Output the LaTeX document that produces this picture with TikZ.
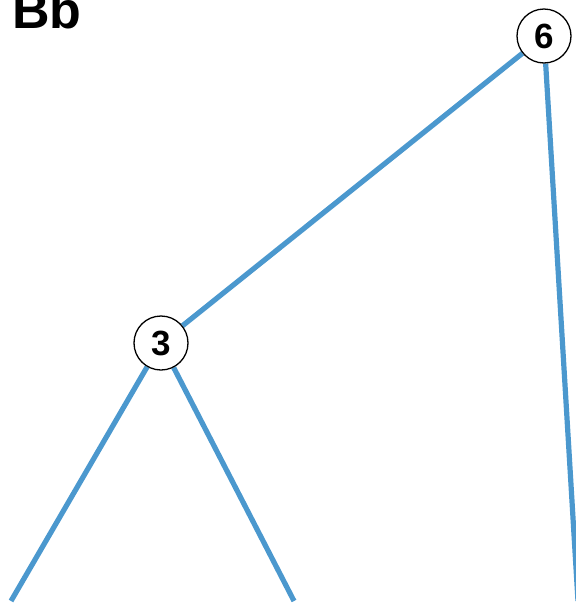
\documentclass[tikz,border=0pt]{standalone}
\usepackage{fontspec}
\setmainfont{Liberation Sans}
\usetikzlibrary{positioning, backgrounds}
\definecolor{BleuBranche}{RGB}{75,152,206}
\tikzset{noeud/.style={circle, draw=black, fill=white, line width=1.3pt,
  minimum size=54pt, inner sep=0pt, font=\fontsize{35}{38}\selectfont\bfseries}}
\tikzset{branche/.style={draw=BleuBranche, line width=5.2pt}}
\tikzset{titre/.style={anchor=base west, inner sep=0pt,
  font=\fontsize{52}{58}\selectfont\bfseries}}

\begin{document}
\begin{tikzpicture}[x=1pt, y=-1pt]
\useasboundingbox (0,0) rectangle (576,603);
\node[titre] (tt) at (12,28) {Bb};
\node[noeud] (six) at (544,36) {6};
\node[noeud] (trois) at (161,343) {3};
\coordinate (fa) at (11,601);
\coordinate (fb) at (294,601);
\coordinate (fc) at (578,601);
\begin{scope}[on background layer]
\draw[branche] (six) -- (trois);
\draw[branche] (six) -- (fc);
\draw[branche] (trois) -- (fa); \draw[branche] (trois) -- (fb);
\end{scope}
\end{tikzpicture}
\end{document}
